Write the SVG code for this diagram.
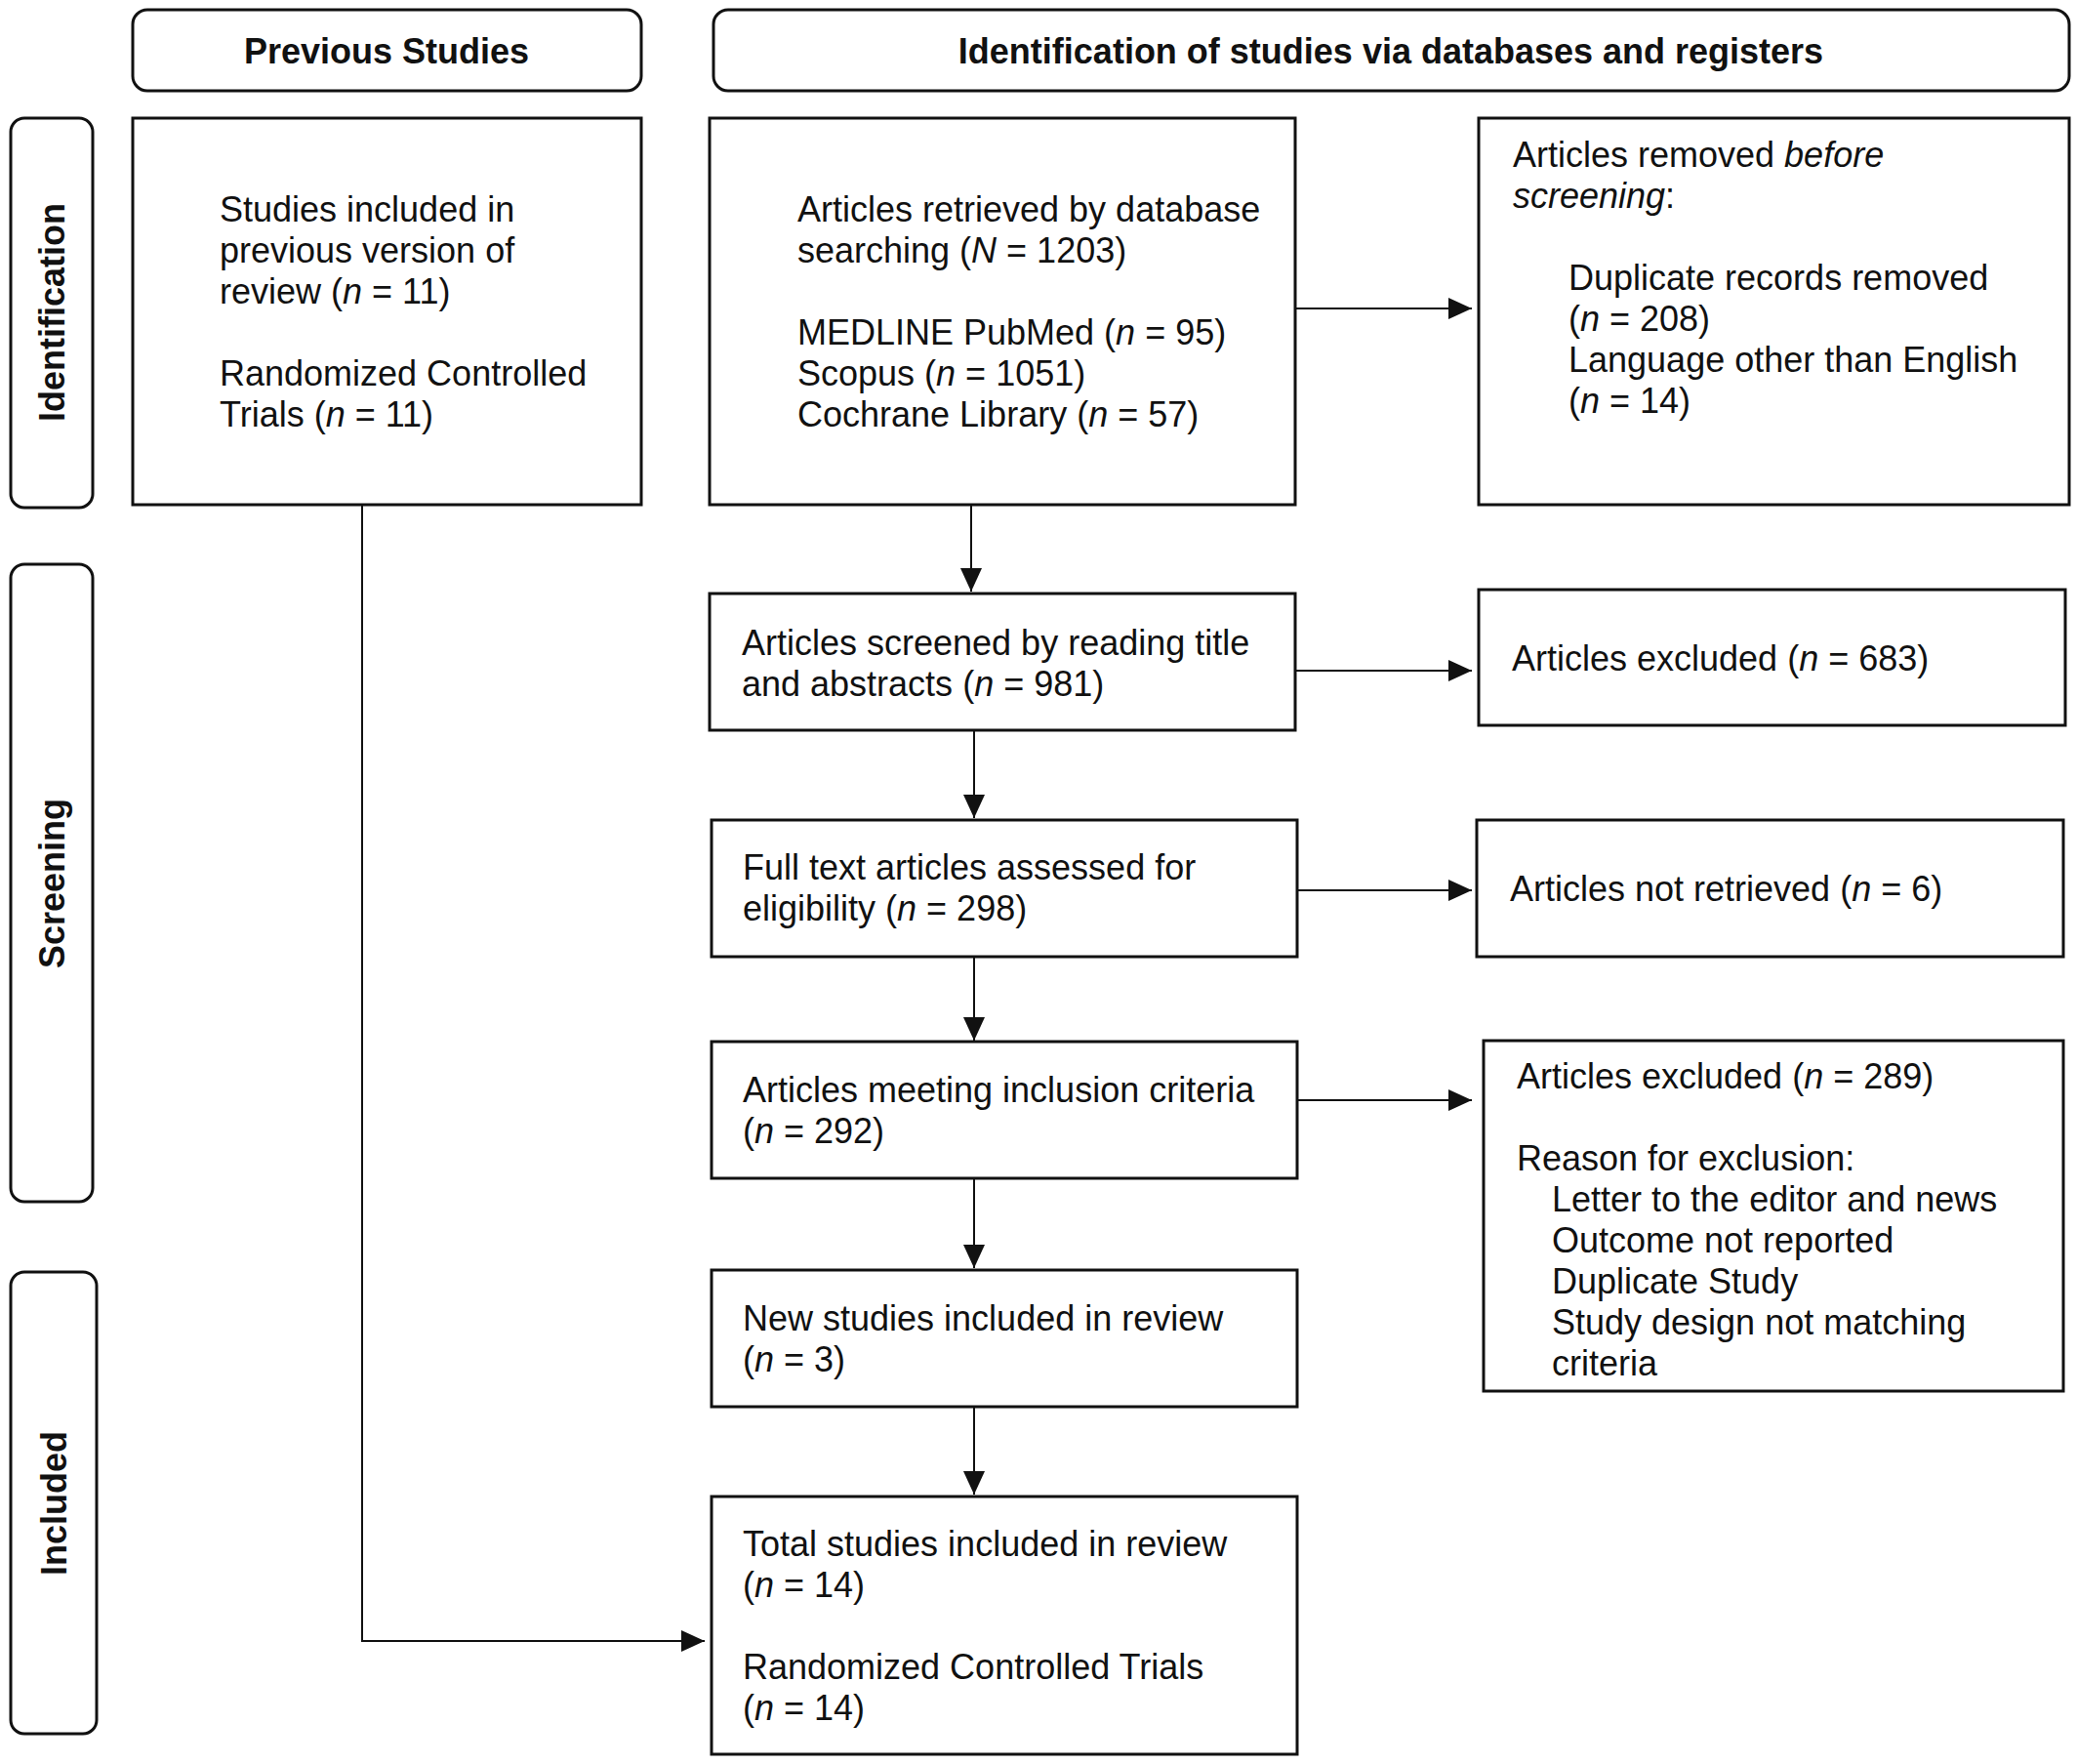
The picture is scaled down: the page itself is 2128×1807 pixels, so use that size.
<svg xmlns="http://www.w3.org/2000/svg" width="2128" height="1807" viewBox="0 0 2128 1807">
<style>
.bg{fill:#ffffff}
.box{fill:#ffffff;stroke:#111;stroke-width:3}
.hdr{fill:#ffffff;stroke:#111;stroke-width:3}
.t{font-family:"Liberation Sans",Arial,sans-serif;font-size:36px;fill:#111}
.b{font-family:"Liberation Sans",Arial,sans-serif;font-size:36px;font-weight:bold;fill:#111}
.i{font-style:italic}
.c{fill:none;stroke:#111;stroke-width:2}
</style>
<defs>
<marker id="ah" markerUnits="userSpaceOnUse" markerWidth="24" markerHeight="22" refX="24" refY="11" orient="auto">
<path d="M0,0 L24,11 L0,22 z" fill="#111"/>
</marker>
</defs>
<rect class="bg" x="0" y="0" width="2128" height="1807"/>

<g id="hdr-previous">
<rect class="hdr" x="136" y="10" width="521" height="83" rx="15"/>
<text class="b" x="396" y="65" text-anchor="middle">Previous Studies</text>
</g>
<g id="hdr-identification">
<rect class="hdr" x="731" y="10" width="1389" height="83" rx="15"/>
<text class="b" x="1425" y="65" text-anchor="middle">Identification of studies via databases and registers</text>
</g>

<g id="side-identification">
<rect class="hdr" x="11" y="121" width="84" height="399" rx="14"/>
<text class="b" transform="translate(66,320) rotate(-90)" text-anchor="middle">Identification</text>
</g>
<g id="side-screening">
<rect class="hdr" x="11" y="578" width="84" height="653" rx="14"/>
<text class="b" transform="translate(66,905) rotate(-90)" text-anchor="middle">Screening</text>
</g>
<g id="side-included">
<rect class="hdr" x="11" y="1303" width="88" height="473" rx="14"/>
<text class="b" transform="translate(68,1540) rotate(-90)" text-anchor="middle">Included</text>
</g>

<g id="node-previous">
<rect class="box" x="136" y="121" width="521" height="396"/>
<text class="t" x="225" y="227">Studies included in</text>
<text class="t" x="225" y="269">previous version of</text>
<text class="t" x="225" y="311">review (<tspan class="i">n</tspan> = 11)</text>
<text class="t" x="225" y="395">Randomized Controlled</text>
<text class="t" x="225" y="437">Trials (<tspan class="i">n</tspan> = 11)</text>
</g>

<g id="node-database">
<rect class="box" x="727" y="121" width="600" height="396"/>
<text class="t" x="817" y="227">Articles retrieved by database</text>
<text class="t" x="817" y="269">searching (<tspan class="i">N</tspan> = 1203)</text>
<text class="t" x="817" y="353">MEDLINE PubMed (<tspan class="i">n</tspan> = 95)</text>
<text class="t" x="817" y="395">Scopus (<tspan class="i">n</tspan> = 1051)</text>
<text class="t" x="817" y="437">Cochrane Library (<tspan class="i">n</tspan> = 57)</text>
</g>

<g id="node-removed">
<rect class="box" x="1515" y="121" width="605" height="396"/>
<text class="t" x="1550" y="171">Articles removed <tspan class="i">before</tspan></text>
<text class="t" x="1550" y="213"><tspan class="i">screening</tspan>:</text>
<text class="t" x="1607" y="297">Duplicate records removed</text>
<text class="t" x="1607" y="339">(<tspan class="i">n</tspan> = 208)</text>
<text class="t" x="1607" y="381">Language other than English</text>
<text class="t" x="1607" y="423">(<tspan class="i">n</tspan> = 14)</text>
</g>

<g id="node-screened">
<rect class="box" x="727" y="608" width="600" height="140"/>
<text class="t" x="760" y="671">Articles screened by reading title</text>
<text class="t" x="760" y="713">and abstracts (<tspan class="i">n</tspan> = 981)</text>
</g>

<g id="node-excluded683">
<rect class="box" x="1515" y="604" width="601" height="139"/>
<text class="t" x="1549" y="687">Articles excluded (<tspan class="i">n</tspan> = 683)</text>
</g>

<g id="node-fulltext">
<rect class="box" x="729" y="840" width="600" height="140"/>
<text class="t" x="761" y="901">Full text articles assessed for</text>
<text class="t" x="761" y="943">eligibility (<tspan class="i">n</tspan> = 298)</text>
</g>

<g id="node-notretrieved">
<rect class="box" x="1513" y="840" width="601" height="140"/>
<text class="t" x="1547" y="923">Articles not retrieved (<tspan class="i">n</tspan> = 6)</text>
</g>

<g id="node-meeting">
<rect class="box" x="729" y="1067" width="600" height="140"/>
<text class="t" x="761" y="1129">Articles meeting inclusion criteria</text>
<text class="t" x="761" y="1171">(<tspan class="i">n</tspan> = 292)</text>
</g>

<g id="node-excluded289">
<rect class="box" x="1520" y="1066" width="594" height="359"/>
<text class="t" x="1554" y="1115">Articles excluded (<tspan class="i">n</tspan> = 289)</text>
<text class="t" x="1554" y="1199">Reason for exclusion:</text>
<text class="t" x="1590" y="1241">Letter to the editor and news</text>
<text class="t" x="1590" y="1283">Outcome not reported</text>
<text class="t" x="1590" y="1325">Duplicate Study</text>
<text class="t" x="1590" y="1367">Study design not matching</text>
<text class="t" x="1590" y="1409">criteria</text>
</g>

<g id="node-new">
<rect class="box" x="729" y="1301" width="600" height="140"/>
<text class="t" x="761" y="1363">New studies included in review</text>
<text class="t" x="761" y="1405">(<tspan class="i">n</tspan> = 3)</text>
</g>

<g id="node-total">
<rect class="box" x="729" y="1533" width="600" height="264"/>
<text class="t" x="761" y="1594">Total studies included in review</text>
<text class="t" x="761" y="1636">(<tspan class="i">n</tspan> = 14)</text>
<text class="t" x="761" y="1720">Randomized Controlled Trials</text>
<text class="t" x="761" y="1762">(<tspan class="i">n</tspan> = 14)</text>
</g>

<g id="connectors">
<path class="c" d="M995,518 V606" marker-end="url(#ah)"/>
<path class="c" d="M998,749 V838" marker-end="url(#ah)"/>
<path class="c" d="M998,981 V1066" marker-end="url(#ah)"/>
<path class="c" d="M998,1208 V1299" marker-end="url(#ah)"/>
<path class="c" d="M998,1442 V1531" marker-end="url(#ah)"/>
<path class="c" d="M1328,316 H1508" marker-end="url(#ah)"/>
<path class="c" d="M1328,687 H1508" marker-end="url(#ah)"/>
<path class="c" d="M1330,912 H1508" marker-end="url(#ah)"/>
<path class="c" d="M1330,1127 H1508" marker-end="url(#ah)"/>
<path class="c" d="M371,518 V1681 H722" marker-end="url(#ah)"/>
</g>
</svg>
